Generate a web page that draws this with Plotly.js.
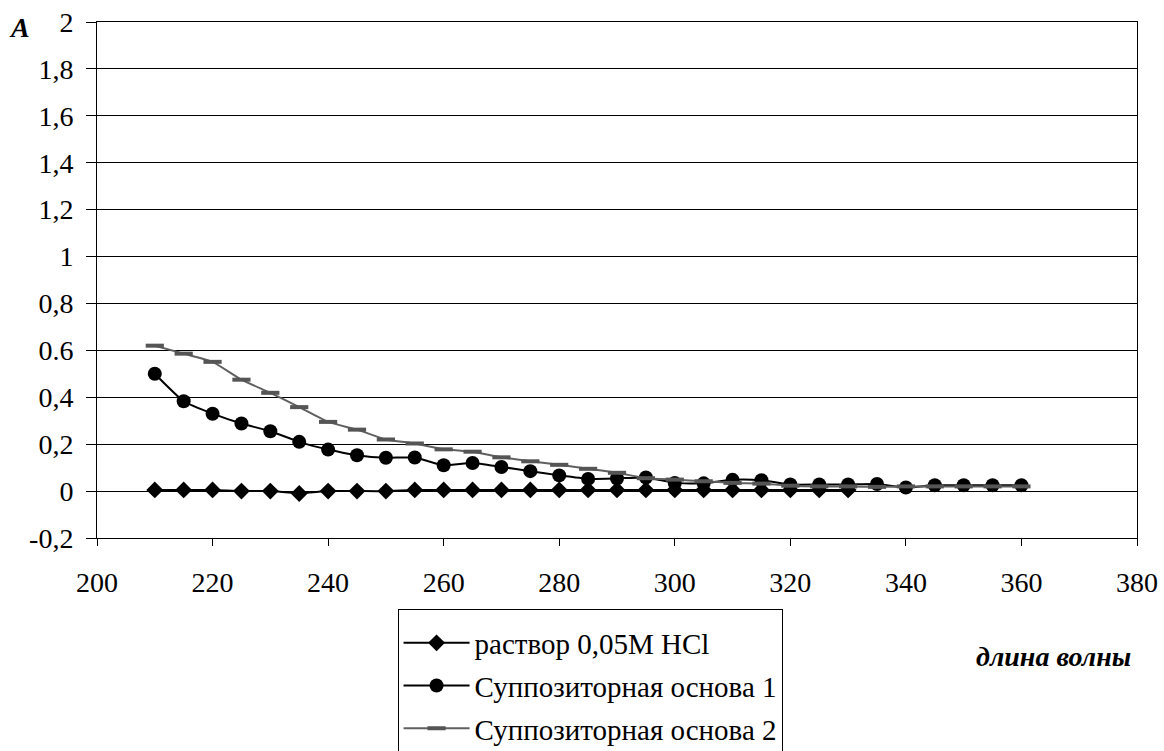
<!DOCTYPE html>
<html>
<head>
<meta charset="utf-8">
<script src="https://cdn.plot.ly/plotly-3.0.1.min.js"></script>
<style>html,body{margin:0;padding:0;background:#fff;}#chart{width:1164px;height:751px;}</style>
</head>
<body>
<div id="chart"></div>
<script>
const wl1 = [210,215,220,225,230,235,240,245,250,255,260,265,270,275,280,285,290,295,300,305,310,315,320,325,330];
const hcl = [0.005,0.005,0.005,0,0,-0.01,0,0,0,0.005,0.005,0.005,0.005,0.005,0.005,0.005,0.005,0.005,0.005,0.005,0.005,0.005,0.005,0.005,0.005];
const wl2 = [210,215,220,225,230,235,240,245,250,255,260,265,270,275,280,285,290,295,300,305,310,315,320,325,330,335,340,345,350,355,360];
const base1 = [0.50,0.383,0.33,0.288,0.255,0.21,0.177,0.153,0.142,0.143,0.11,0.12,0.103,0.085,0.067,0.052,0.054,0.058,0.035,0.033,0.048,0.046,0.028,0.028,0.028,0.03,0.015,0.025,0.025,0.025,0.025];
const base2 = [0.62,0.586,0.551,0.475,0.419,0.358,0.295,0.262,0.22,0.203,0.178,0.168,0.144,0.127,0.112,0.095,0.078,0.055,0.049,0.042,0.035,0.032,0.023,0.02,0.02,0.018,0.02,0.02,0.02,0.02,0.02];
const names = ["раствор 0,05М HCl","Суппозиторная основа 1","Суппозиторная основа 2"];
const yTickVals = [-0.2,0,0.2,0.4,0.6,0.8,1,1.2,1.4,1.6,1.8,2];
const yTickText = ["-0,2","0","0,2","0,4","0.6","0,8","1","1,2","1,4","1,6","1,8","2"];
const xTickVals = [200,220,240,260,280,300,320,340,360,380];

const font = 'Liberation Serif, serif';
const fs = 28;
const traces = [
  {x: wl1, y: hcl, name: names[0], legendgroup: "a", mode: "lines+markers",
   line: {color: "#000", width: 2, shape: "spline", smoothing: 0.5},
   marker: {symbol: "diamond", size: 13, color: "#000"}},
  {x: wl2, y: base1, name: names[1], legendgroup: "b", mode: "lines+markers",
   line: {color: "#000", width: 2, shape: "spline", smoothing: 0.5},
   marker: {symbol: "circle", size: 14, color: "#000"}},
  {x: wl2, y: base2, name: names[2], legendgroup: "c", mode: "lines+markers",
   line: {color: "#606060", width: 2, shape: "spline", smoothing: 0.5},
   marker: {symbol: "line-ew", size: 13, color: "#555", line: {color: "#555", width: 4}}}
];
const layout = {
  width: 1164, height: 751,
  paper_bgcolor: "#fff", plot_bgcolor: "#fff",
  margin: {l: 97, r: 27, t: 22, b: 213, autoexpand: false},
  font: {family: font, size: fs, color: "#000"},
  showlegend: true,
  xaxis: {range: [200, 380], tickvals: xTickVals, ticks: "outside", ticklen: 7, tickcolor: "#000", automargin: false,
          showline: true, linecolor: "#000", linewidth: 1, mirror: true, showgrid: false, zeroline: false,
          ticklabelstandoff: 12, tickfont: {family: font, size: fs, color: "#000"}},
  yaxis: {range: [-0.2, 2], tickvals: yTickVals, ticktext: yTickText, ticks: "outside", ticklen: 10, tickcolor: "#000", automargin: false,
          showline: true, linecolor: "#000", linewidth: 1, mirror: true, showgrid: true, gridcolor: "#000", gridwidth: 1,
          zeroline: false, ticklabelstandoff: 7, tickfont: {family: font, size: fs, color: "#000"}},
  legend: {x: 0.289, y: -0.137, xanchor: "left", yanchor: "top",
           bordercolor: "#000", borderwidth: 1,
           bgcolor: "#fff", font: {family: font, size: 29, color: "#000"}, tracegroupgap: 2, itemwidth: 66,
           traceorder: "grouped", title: {text: " ", font: {family: font, size: 6}}},
  annotations: [
    {text: "<b><i>A</i></b>", xref: "paper", yref: "paper", x: -0.075, y: 0.99, xanchor: "center", yanchor: "middle",
     showarrow: false, font: {family: font, size: fs, color: "#000"}},
    {text: "<b><i>длина волны</i></b>", xref: "paper", yref: "paper", x: 0.92, y: -0.2306, xanchor: "center", yanchor: "middle",
     showarrow: false, font: {family: font, size: fs, color: "#000"}}
  ]
};
Plotly.newPlot("chart", traces, layout, {displayModeBar: false, staticPlot: true});
</script>
</body>
</html>
